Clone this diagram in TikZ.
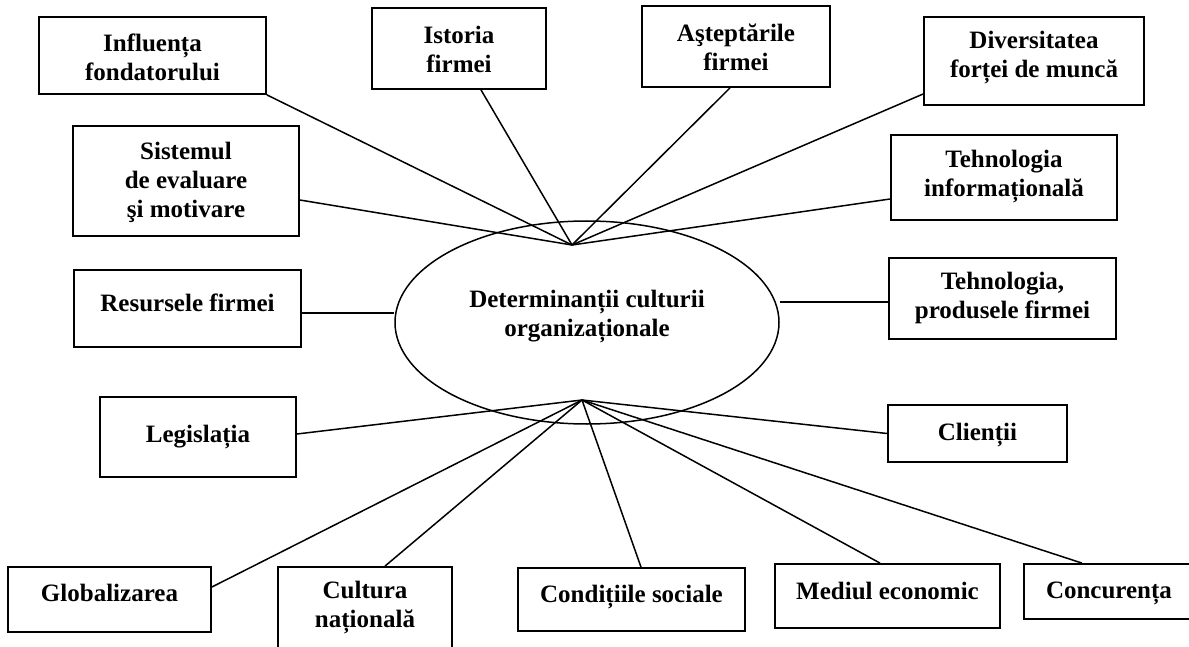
\documentclass[tikz,border=0pt]{standalone}
\usepackage{fontspec}
\setmainfont{Liberation Serif}
\usetikzlibrary{shapes.geometric}
\begin{document}
\begin{tikzpicture}[x=1pt,y=-1pt,
  box/.style={draw, line width=1.8pt, rectangle, inner sep=0pt},
  lbl/.style={font=\fontsize{25}{29}\selectfont\bfseries, align=center, inner sep=0pt},
  link/.style={line width=1.5pt}]
\useasboundingbox (0,0) rectangle (1189,647);
% boxes
\node[box, minimum width=227pt, minimum height=77pt] (infl) at (152.5,55.5) {};
\node[box, minimum width=174pt, minimum height=81pt] (ist) at (459,48.5) {};
\node[box, minimum width=188pt, minimum height=81pt] (ast) at (736,46.5) {};
\node[box, minimum width=220pt, minimum height=88pt] (div) at (1034,61) {};
\node[box, minimum width=226pt, minimum height=110pt] (sis) at (186,181) {};
\node[box, minimum width=226pt, minimum height=85pt] (tinf) at (1004,177.5) {};
\node[box, minimum width=227pt, minimum height=77pt] (res) at (187.5,308.5) {};
\node[box, minimum width=227pt, minimum height=81pt] (tprod) at (1002.5,298.5) {};
\node[box, minimum width=196pt, minimum height=80pt] (leg) at (198,437) {};
\node[box, minimum width=179pt, minimum height=57pt] (cli) at (977.5,433.5) {};
\node[box, minimum width=203pt, minimum height=65pt] (glob) at (109.5,599.5) {};
\node[box, minimum width=174pt, minimum height=83pt] (cult) at (365,608.5) {};
\node[box, minimum width=227pt, minimum height=63pt] (cond) at (631.5,599.5) {};
\node[box, minimum width=225pt, minimum height=64pt] (med) at (887.5,596) {};
\node[box, minimum width=168pt, minimum height=55pt] (conc) at (1108,591.5) {};
\node[draw, ellipse, line width=1.5pt, minimum width=384pt, minimum height=203pt, inner sep=0pt] (ell) at (587,322.5) {};
% labels
\node[lbl] (infl-t) at (152.5,57.5) {Influența\\fondatorului};
\node[lbl] (ist-t) at (459,49) {Istoria\\firmei};
\node[lbl] (ast-t) at (736,47.5) {Aşteptările\\firmei};
\node[lbl] (div-t) at (1034,57.5) {Diversitatea\\forței de muncă};
\node[lbl] (sis-t) at (186,182) {Sistemul\\de evaluare\\şi motivare};
\node[lbl] (tinf-t) at (1004,176.5) {Tehnologia\\informațională};
\node[lbl] (res-t) at (187.5,303) {Resursele firmei};
\node[lbl] (tp-t) at (1002.5,298) {Tehnologia,\\produsele firmei};
\node[lbl] (leg-t) at (198,437) {Legislația};
\node[lbl] (cli-t) at (977.5,435) {Clienții};
\node[lbl] (glob-t) at (109.5,593) {Globalizarea};
\node[lbl] (cult-t) at (365,608) {Cultura\\națională};
\node[lbl] (cond-t) at (631.5,597) {Condițiile sociale};
\node[lbl] (med-t) at (887.5,591) {Mediul economic};
\node[lbl] (conc-t) at (1109,593) {Concurența};
\node[lbl] (ell-t) at (587,317) {Determinanții culturii\\organizaționale};
% hubs
\coordinate (htop) at (572,245);
\coordinate (hbot) at (582,400);
% connectors to top hub
\draw[link] (infl.south east) -- (htop);
\draw[link] ([xshift=22pt]ist.south) -- (htop);
\draw[link] ([xshift=-6pt]ast.south) -- (htop);
\draw[link] ([yshift=-33pt]div.west) -- (htop);
\draw[link] ([yshift=-19pt]sis.east) -- (htop);
\draw[link] ([yshift=-21.5pt]tinf.west) -- (htop);
% horizontal connectors
\coordinate (resE) at ([yshift=-4.5pt]res.east);
\draw[link] (resE) -- (resE -| ell.west);
\coordinate (tpW) at ([yshift=-3.5pt]tprod.west);
\draw[link] (tpW -| ell.east) -- (tpW);
% connectors to bottom hub
\draw[link] ([yshift=3pt]leg.east) -- (hbot);
\draw[link] (cli.west) -- (hbot);
\draw[link] ([yshift=12.5pt]glob.east) -- (hbot);
\draw[link] ([xshift=20pt]cult.north) -- (hbot);
\draw[link] ([xshift=9.5pt]cond.north) -- (hbot);
\draw[link] ([xshift=-7.5pt]med.north) -- (hbot);
\draw[link] ([xshift=-26pt]conc.north) -- (hbot);
\end{tikzpicture}
\end{document}
